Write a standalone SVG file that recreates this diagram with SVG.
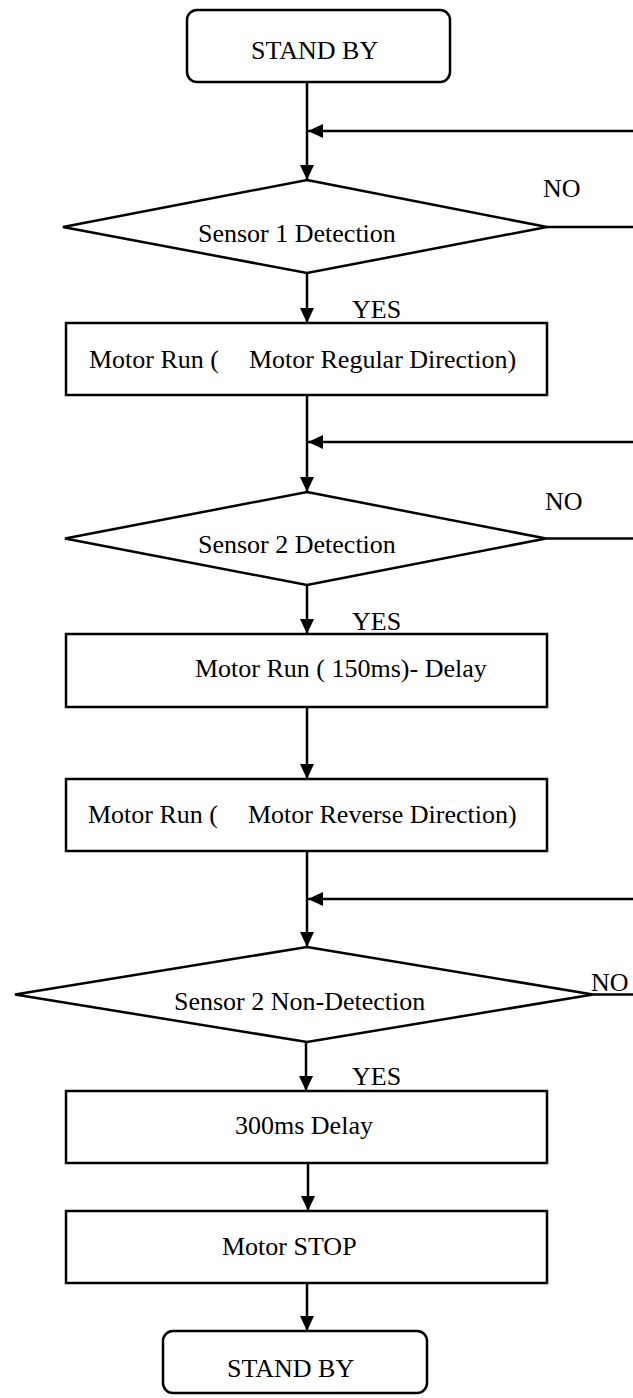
<svg xmlns="http://www.w3.org/2000/svg" width="633" height="1398" viewBox="0 0 633 1398">
<style>
.shape{fill:#fff;stroke:#000;stroke-width:2.5}
.line{fill:none;stroke:#000;stroke-width:2.5}
.t{font-family:"Liberation Serif","Times New Roman",serif;font-size:26px;fill:#000}
</style>
<defs>
<marker id="ah" markerUnits="userSpaceOnUse" markerWidth="15" markerHeight="14" refX="15" refY="7" orient="auto" viewBox="0 0 15 14">
<path d="M0,0 L15,7 L0,14 z" fill="#000"/>
</marker>
</defs>
<rect width="633" height="1398" fill="#fff"/>
<g id="connectors">
<line class="line" x1="307" y1="82" x2="307" y2="180" marker-end="url(#ah)"/>
<line class="line" x1="633" y1="131" x2="308" y2="131" marker-end="url(#ah)"/>
<line class="line" x1="547" y1="227" x2="633" y2="227"/>
<line class="line" x1="307" y1="273" x2="307" y2="323" marker-end="url(#ah)"/>
<line class="line" x1="307" y1="395" x2="307" y2="492" marker-end="url(#ah)"/>
<line class="line" x1="633" y1="442" x2="308" y2="442" marker-end="url(#ah)"/>
<line class="line" x1="546" y1="538.5" x2="633" y2="538.5"/>
<line class="line" x1="307" y1="585" x2="307" y2="634" marker-end="url(#ah)"/>
<line class="line" x1="307" y1="707" x2="307" y2="779" marker-end="url(#ah)"/>
<line class="line" x1="307" y1="851" x2="307" y2="947" marker-end="url(#ah)"/>
<line class="line" x1="633" y1="899" x2="308" y2="899" marker-end="url(#ah)"/>
<line class="line" x1="593" y1="994.5" x2="633" y2="994.5"/>
<line class="line" x1="306" y1="1042" x2="306" y2="1091" marker-end="url(#ah)"/>
<line class="line" x1="308" y1="1163" x2="308" y2="1211" marker-end="url(#ah)"/>
<line class="line" x1="307" y1="1283" x2="307" y2="1331" marker-end="url(#ah)"/>
<text class="t" x="543" y="197">NO</text>
<text class="t" x="352" y="318">YES</text>
<text class="t" x="545" y="510">NO</text>
<text class="t" x="352" y="630">YES</text>
<text class="t" x="591" y="991">NO</text>
<text class="t" x="352" y="1085">YES</text>
</g>
<g id="start">
<rect class="shape" x="187" y="10" width="263" height="72" rx="10"/>
<text class="t" x="251" y="59">STAND BY</text>
</g>
<g id="sensor1">
<polygon class="shape" points="307,180 547,227 307,273 63,227"/>
<text class="t" x="198" y="242">Sensor 1 Detection</text>
</g>
<g id="run-regular">
<rect class="shape" x="66" y="323" width="481" height="72"/>
<text class="t" x="89" y="368">Motor Run (<tspan x="249">Motor Regular Direction)</tspan></text>
</g>
<g id="sensor2">
<polygon class="shape" points="307,492 546,538.5 307,585 65,538.5"/>
<text class="t" x="198" y="553">Sensor 2 Detection</text>
</g>
<g id="run-delay">
<rect class="shape" x="66" y="634" width="481" height="73"/>
<text class="t" x="195" y="677">Motor Run ( 150ms)- Delay</text>
</g>
<g id="run-reverse">
<rect class="shape" x="66" y="779" width="481" height="72"/>
<text class="t" x="88" y="823">Motor Run (<tspan x="248">Motor Reverse Direction)</tspan></text>
</g>
<g id="sensor2-non">
<polygon class="shape" points="307,947 593,994.5 307,1042 15,994.5"/>
<text class="t" x="174" y="1010">Sensor 2 Non-Detection</text>
</g>
<g id="delay300">
<rect class="shape" x="66" y="1091" width="481" height="72"/>
<text class="t" x="235" y="1134">300ms Delay</text>
</g>
<g id="stop">
<rect class="shape" x="66" y="1211" width="481" height="72"/>
<text class="t" x="222" y="1255">Motor STOP</text>
</g>
<g id="end">
<rect class="shape" x="163" y="1331" width="264" height="62" rx="10"/>
<text class="t" x="227" y="1377">STAND BY</text>
</g>
</svg>
